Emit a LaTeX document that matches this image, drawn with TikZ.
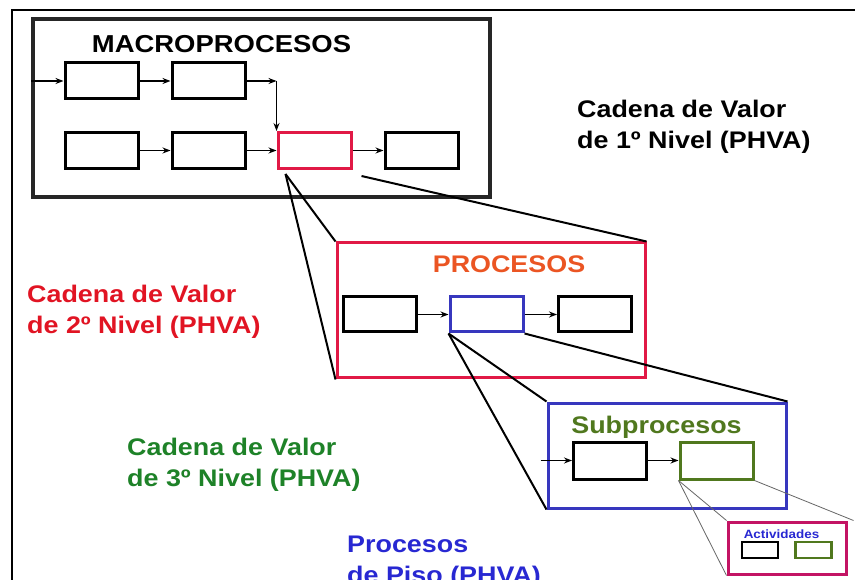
\documentclass[tikz,border=0pt]{standalone}
\usepackage{fontspec}
\setmainfont{Liberation Sans}[FakeStretch=1.12]
\usetikzlibrary{positioning}
\usetikzlibrary{arrows.meta}
\usetikzlibrary{calc}
\definecolor{boxred}{RGB}{225,25,70}
\definecolor{proctext}{RGB}{235,85,35}
\definecolor{lvlred}{RGB}{225,20,35}
\definecolor{lvlgreen}{RGB}{30,130,40}
\definecolor{subgreen}{RGB}{80,120,30}
\definecolor{boxblue}{RGB}{55,55,190}
\definecolor{textblue}{RGB}{40,40,210}
\definecolor{actmag}{RGB}{195,20,100}
\begin{document}
\begin{tikzpicture}[x=1pt, y=-1pt, >={Stealth[length=8pt,width=6pt]},
	blk/.style={draw, line width=3pt, minimum width=73pt, minimum height=36pt, inner sep=0pt},
	frame/.style={draw, line width=3pt, inner sep=0pt},
	zoomline/.style={line width=2pt},
	thinline/.style={line width=0.8pt, black!60},
	flow/.style={->, line width=1.6pt},
	lvl/.style={anchor=north west, align=left, inner sep=0pt, font=\bfseries\fontsize{24}{31}\selectfont},
	title/.style={anchor=base, inner sep=0pt, font=\bfseries\fontsize{24}{29}\selectfont}]

				\useasboundingbox[fill=white] (0,0) rectangle (855,580);
				\clip (0,0) rectangle (855,580);
				\draw[line width=1.5pt] (855,10) -- (12,10) -- (12,580);

				\node[frame, draw=black!85, line width=4pt, minimum width=457pt, minimum height=178pt] (macro) at (261.5,108) {};
				\node[title, font=\bfseries\fontsize{24.5}{29}\selectfont] (macrotitle) at (221.5,53) {MACROPROCESOS};
				\node[blk] (M1) at (101.5,81) {};
				\node[blk] (M2) at (208.5,81) {};
				\node[blk] (M3) at (101.5,150.5) {};
				\node[blk] (M4) at (208.5,150.5) {};
				\node[blk, draw=boxred] (M5) at (314.5,150.5) {};
				\node[blk] (M6) at (421.5,150.5) {};
				\coordinate (bend) at (M2.east -| M5.north west);

				\draw[flow] (macro.west |- M1) -- (M1);
				\draw[flow] (M1) -- (M2);
				\draw[flow] (M2) -- (bend);
				\draw[flow] (bend) -- (M5.north west);
				\draw[flow] (M3) -- (M4);
				\draw[flow] (M4) -- (M5);
				\draw[flow] (M5) -- (M6);

				\node[lvl] (L1) at (577,99.5) {Cadena de Valor\\de 1º Nivel (PHVA)};

				\node[frame, draw=boxred, minimum width=308pt, minimum height=135pt] (P) at (491,310.5) {};
				\node[title, text=proctext] (proctitle) at (509,273) {PROCESOS};
				\node[blk, minimum height=35pt] (P1) at (380,314.5) {};
				\node[blk, minimum height=35pt, draw=boxblue] (P2) at (486.5,314.5) {};
				\node[blk, minimum height=35pt] (P3) at (595,314.5) {};

				\draw[flow] (P1) -- (P2);
				\draw[flow] (P2) -- (P3);

				\draw[zoomline] ([xshift=9pt,yshift=-4pt]M5.south west) -- (P.north west);
				\draw[zoomline] ([xshift=9pt,yshift=-4pt]M5.south west) -- (P.south west);
				\draw[zoomline] ([xshift=9pt,yshift=-6pt]M5.south east) -- (P.north east);

				\node[lvl, text=lvlred] (L2) at (27,284.5) {Cadena de Valor\\de 2º Nivel (PHVA)};

				\node[frame, draw=boxblue, minimum width=238pt, minimum height=105pt] (S) at (667,455.5) {};
				\node[title, text=subgreen] (subtitle) at (656.5,433) {Subprocesos};
				\node[blk, minimum height=37pt] (S1) at (610,460.5) {};
				\node[blk, minimum height=37pt, draw=subgreen] (S2) at (716.5,460.5) {};
				\coordinate (Sin) at ($(S.west |- S1)+(-6,0)$);

				\draw[flow] (Sin) -- (S1);
				\draw[flow] (S1) -- (S2);

				\draw[zoomline] (P2.south west) -- (S.north west);
				\draw[zoomline] (P2.south west) -- (S.south west);
				\draw[zoomline] (P2.south east) -- (S.north east);

				\node[lvl, text=lvlgreen] (L3) at (127,437.5) {Cadena de Valor\\de 3º Nivel (PHVA)};

				\node[frame, draw=actmag, minimum width=118pt, minimum height=52pt] (A) at (787,548) {};
				\node[title, text=textblue, font=\bfseries\fontsize{12}{14}\selectfont] (acttitle) at (781.5,538) {Actividades};
				\node[blk, line width=2.5pt, minimum width=36pt, minimum height=16pt] (A1) at (760,550) {};
				\node[blk, line width=2.5pt, minimum width=36pt, minimum height=16pt, draw=subgreen] (A2) at (813.5,550) {};

				\draw[thinline] (S2.south west) -- (A.north west);
				\draw[thinline] (S2.south west) -- (A.south west);
				\draw[thinline] (S2.south east) -- ([xshift=6pt]A.north east);

				\node[lvl, text=textblue] (L4) at (347,535.5) {Procesos\\de Piso (PHVA)};

			\end{tikzpicture}
\end{document}
